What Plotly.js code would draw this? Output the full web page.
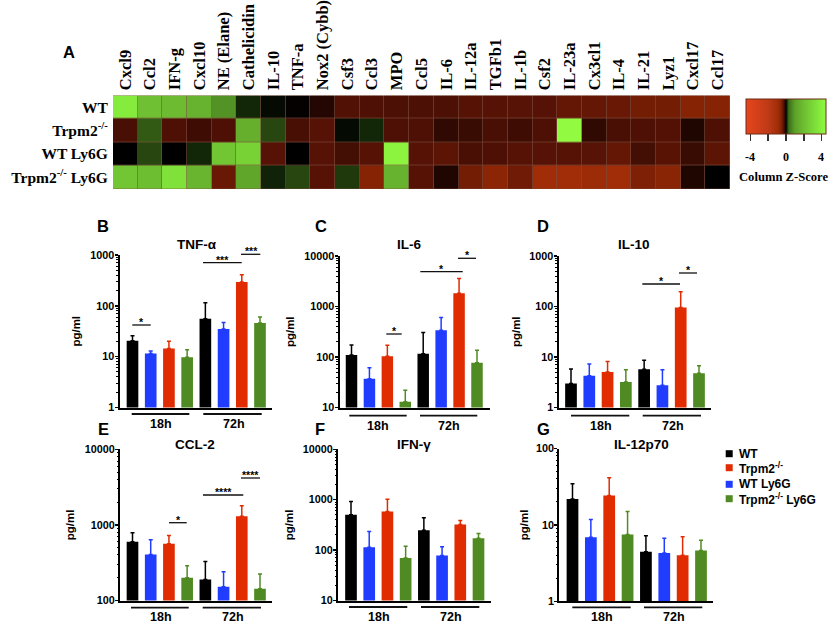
<!DOCTYPE html>
<html>
<head>
<meta charset="utf-8">
<script src="https://cdn.plot.ly/plotly-3.0.1.min.js"></script>
<style>body { margin: 0; background: #fff; }</style>
</head>
<body>
<div id="chart" style="width:829px;height:624px"></div>
<script>
// heatmap data
var genes = ["Cxcl9", "Ccl2", "IFN-g", "Cxcl10", "NE (Elane)", "Cathelicidin", "IL-10", "TNF-a", "Nox2 (Cybb)",
    "Csf3", "Ccl3", "MPO", "Ccl5", "IL-6", "IL-12a", "TGFb1", "IL-1b", "Csf2", "IL-23a", "Cx3cl1", "IL-4",
    "IL-21", "Lyz1", "Cxcl17", "Ccl17"];
var rows = ["WT", "Trpm2<sup>-/-</sup>", "WT Ly6G", "Trpm2<sup>-/-</sup> Ly6G"];
var zWT = [3.8, 2.1, 1.9, 1.6, 0.8, 0.1, 0.03, -0.01, -0.08, -0.26, -0.25, -0.24, -0.24, -0.24, -0.28, -0.28, -0.29, -0.28, -0.36, -0.36, -0.38, -0.45, -0.45, -0.55, -0.55];
var zTrpm2 = [-0.22, 0.25, -0.25, -0.18, -0.25, 1.5, 0.2, -0.22, -0.28, 0.03, 0.1, -0.25, -0.25, -0.11, -0.15, -0.23, -0.18, -0.25, 4.5, -0.11, -0.23, -0.25, -0.27, -0.07, -0.25];
var zWTLy6G = [0, 0.2, 0, 0.1, 2.3, 2.8, -0.28, 0, -0.28, -0.2, -0.28, 4.2, -0.28, -0.32, -0.23, -0.25, -0.28, -0.28, -0.28, -0.29, -0.36, -0.2, -0.3, -0.15, -0.32];
var zTrpm2Ly6G = [2.3, 2, 3.4, 1.7, -0.38, 1.2, 0.09, 0.2, -0.28, 0.16, -0.55, 1.6, -0.28, -0.07, -0.45, -0.62, -0.42, -0.9, -0.9, -0.85, -0.9, -0.5, -0.58, -0.07, 0];

// colour ramp, z value then colour
var rampZ = [-4.5, -2, -0.9, -0.55, -0.28, -0.1, 0, 0.1, 0.2, 0.3, 1, 2, 3.5, 4.5];
var rampColors = ["rgb(230,70,30)", "rgb(190,58,22)", "rgb(160,45,8)", "rgb(135,35,5)", "rgb(85,18,5)", "rgb(45,8,2)", "rgb(0,0,0)",
    "rgb(18,38,8)", "rgb(40,70,15)", "rgb(60,110,25)", "rgb(92,160,40)", "rgb(110,190,50)", "rgb(128,228,58)", "rgb(145,250,65)"];

// bar data, in drawing order: WT, WT Ly6G, Trpm2, Trpm2 Ly6G at 18h then the same at 72h
var groups = ["WT", "Trpm2", "WT Ly6G", "Trpm2 Ly6G"];
var groupLabels = ["WT", "Trpm2<sup>-/-</sup>", "WT Ly6G", "Trpm2<sup>-/-</sup> Ly6G"];
var groupColors = ["#000000", "#e02c00", "#1f3cff", "#4f8a22"];
var barOrder = ["WT", "WT Ly6G", "Trpm2", "Trpm2 Ly6G"];
var times = ["18h", "72h"];

var tnfMeans = [20.6, 11.6, 14.4, 9.7, 56, 35, 295, 46];
var tnfTops = [25.7, 12.9, 20, 13.7, 115, 47, 410, 60];
var il6Means = [110, 37, 103, 13, 116, 339, 1840, 77];
var il6Tops = [173, 61, 170, 22, 304, 604, 3600, 136];
var il10Means = [3, 4.27, 5.05, 3.2, 5.7, 2.75, 96, 4.75];
var il10Tops = [5.8, 7.3, 8.1, 5.6, 8.6, 5.6, 197, 6.7];
var ccl2Means = [599, 407, 563, 200, 190, 152, 1297, 143];
var ccl2Tops = [787, 636, 726, 288, 329, 240, 1795, 225];
var ifngMeans = [500, 114, 582, 70, 248, 78, 321, 172];
var ifngTops = [918, 233, 1021, 119, 436, 116, 385, 213];
var il12Means = [21.8, 6.9, 24.3, 7.5, 4.46, 4.28, 4, 4.64];
var il12Tops = [34.5, 11.8, 41.4, 15, 7.2, 6.7, 7, 6.3];

var W = 829, H = 624;
var sans = "Liberation Sans", serif = "Liberation Serif";

function px(x) { return x / W; }
function py(y) { return 1 - y / H; }

// panel frames are in page pixels
var panels = [
    { title: "TNF-α", means: tnfMeans, tops: tnfTops, letter: "B", letterX: 103, letterY: 226, titleX: 197, titleY: 244.5,
      left: 119.5, right: 272, top: 255, bottom: 407.5, first: 132.5, last: 260, logRange: [0, 3], standoff: 7,
      bracketY: 414, b18: [131.7, 189.3], b72: [203.3, 261.7], labelY: 424, l18: 161.3, l72: 234,
      sig: [[132.3, 150.7, 325, "*", 141.3], [203, 241.7, 262.7, "***", 222], [241, 260.3, 254.3, "***", 251.3]] },
    { title: "IL-6", means: il6Means, tops: il6Tops, letter: "C", letterX: 321, letterY: 226, titleX: 409.3, titleY: 244.5,
      left: 339.5, right: 490, top: 256, bottom: 407.5, first: 351.5, last: 477, logRange: [1, 4], standoff: 7,
      bracketY: 415.7, b18: [349.3, 406.7], b72: [420, 477.3], labelY: 425.7, l18: 378.3, l72: 449.3,
      sig: [[386.3, 401.7, 334, "*", 394], [420.3, 462.7, 271.7, "*", 441], [458, 476, 258.3, "*", 467]] },
    { title: "IL-10", means: il10Means, tops: il10Tops, letter: "D", letterX: 543.3, letterY: 226, titleX: 634, titleY: 244.5,
      left: 558.5, right: 710.7, top: 256, bottom: 407.5, first: 571, last: 699, logRange: [0, 3], standoff: 6,
      bracketY: 415.7, b18: [571, 629.3], b72: [642.7, 701], labelY: 425.7, l18: 600.7, l72: 673.3,
      sig: [[642.3, 680, 284, "*", 661], [679, 697, 273, "*", 688]] },
    { title: "CCL-2", means: ccl2Means, tops: ccl2Tops, letter: "E", letterX: 103, letterY: 429, titleX: 195, titleY: 444.5,
      left: 120, right: 272, top: 449.3, bottom: 600.5, first: 132.5, last: 260, logRange: [2, 4], standoff: 8,
      bracketY: 607.7, b18: [131, 188.7], b72: [202.7, 261], labelY: 617.3, l18: 160.7, l72: 233,
      sig: [[169, 186.7, 522.7, "*", 178], [203, 243.3, 495, "****", 223.3], [241, 260, 478, "****", 250.3]] },
    { title: "IFN-γ", means: ifngMeans, tops: ifngTops, letter: "F", letterX: 320, letterY: 429, titleX: 414, titleY: 444.5,
      left: 338, right: 490.7, top: 449.3, bottom: 600.5, first: 351, last: 478.5, logRange: [1, 4], standoff: 7,
      bracketY: 607, b18: [349, 407.3], b72: [421, 479.3], labelY: 617.3, l18: 379, l72: 451.3, sig: [] },
    { title: "IL-12p70", means: il12Means, tops: il12Tops, letter: "G", letterX: 543, letterY: 429, titleX: 641, titleY: 444.5,
      left: 559.3, right: 712.7, top: 448.5, bottom: 601.3, first: 572.5, last: 701, logRange: [0, 2], standoff: 5,
      bracketY: 607.3, b18: [572.3, 630.7], b72: [644, 702.3], labelY: 617.3, l18: 601.7, l72: 674.3, sig: [] }
];

var barCategories = [];
times.forEach(function (t) {
    barOrder.forEach(function (g) { barCategories.push(g + " " + t); });
});

var data = [], shapes = [], annotations = [];
var layout = {
    width: W, height: H,
    margin: { l: 0, r: 0, t: 0, b: 0 },
    paper_bgcolor: "#fff", plot_bgcolor: "#fff",
    barmode: "overlay", showlegend: false,
    font: { family: sans, color: "#000" }
};

function note(text, x, y, size, family, weight) {
    annotations.push({
        xref: "paper", yref: "paper", x: px(x), y: py(y), text: text, showarrow: false,
        xanchor: "center", yanchor: "middle",
        font: { family: family || sans, size: size, color: "#000", weight: weight || "bold" }
    });
}
function hline(x0, x1, y, width) {
    shapes.push({ type: "line", xref: "paper", yref: "paper", x0: px(x0), x1: px(x1), y0: py(y), y1: py(y),
        line: { color: "#111", width: width } });
}

panels.forEach(function (p, i) {
    var n = i + 1, suffix = n === 1 ? "" : String(n);
    var pitch = (p.last - p.first) / 7;

    groups.forEach(function (g, k) {
        var xs = [], ys = [], ups = [], downs = [];
        barCategories.forEach(function (c, j) {
            if (barOrder[j % 4] === g) {
                xs.push(c);
                ys.push(p.means[j]);
                ups.push(p.tops[j] - p.means[j]);
                downs.push(0);
            }
        });
        data.push({
            type: "bar", name: g, x: xs, y: ys, width: 0.64,
            xaxis: "x" + suffix, yaxis: "y" + suffix,
            marker: { color: groupColors[k] },
            error_y: { type: "data", symmetric: false, array: ups, arrayminus: downs,
                color: groupColors[k], thickness: 1.5, width: 2 }
        });
    });

    layout["xaxis" + suffix] = {
        domain: [px(p.left), px(p.right)], anchor: "y" + suffix,
        type: "category", categoryorder: "array", categoryarray: barCategories,
        range: [-(p.first - p.left) / pitch, (p.right - p.first) / pitch],
        showgrid: false, showticklabels: false, ticks: "", zeroline: false,
        showline: true, linecolor: "#000", linewidth: 2
    };
    layout["yaxis" + suffix] = {
        domain: [py(p.bottom), py(p.top)], anchor: "x" + suffix,
        type: "log", range: p.logRange, dtick: 1, tickformat: "d",
        showgrid: false, zeroline: false,
        showline: true, linecolor: "#000", linewidth: 2,
        ticks: "outside", ticklen: 3, tickwidth: 1.5, tickcolor: "#000", ticklabelstandoff: -2,
        minor: { dtick: "D1", ticks: "outside", ticklen: 1.5, tickwidth: 1, tickcolor: "#000" },
        tickfont: { family: sans, size: 10.8, weight: "bold", color: "#000" },
        title: { text: "pg/ml", standoff: p.standoff, font: { family: sans, size: 11.5, weight: "bold", color: "#000" } }
    };

    note(p.letter, p.letterX, p.letterY, 16.5);
    note(p.title, p.titleX, p.titleY, 13.5);

    hline(p.b18[0], p.b18[1], p.bracketY, 1.8);
    hline(p.b72[0], p.b72[1], p.bracketY, 1.8);
    note(times[0], p.l18, p.labelY, 12.5);
    note(times[1], p.l72, p.labelY, 12.5);

    p.sig.forEach(function (s) {
        hline(s[0], s[1], s[2], 1.3);
        note(s[3], s[4], s[2] - 3, 10.5);
    });
});

// heatmap panel
var colorscale = rampZ.map(function (z, i) { return [(z + 4.5) / 9, rampColors[i]]; });
data.push({
    type: "heatmap", x: genes, y: rows, z: [zWT, zTrpm2, zWTLy6G, zTrpm2Ly6G],
    xaxis: "x7", yaxis: "y7", zmin: -4.5, zmax: 4.5, colorscale: colorscale,
    xgap: 0.6, ygap: 0.6, hoverinfo: "skip",
    colorbar: {
        orientation: "h", lenmode: "pixels", len: 80, thicknessmode: "pixels", thickness: 35,
        x: px(786), xanchor: "center", y: py(99), yanchor: "top", xpad: 0, ypad: 0,
        tickmode: "array", tickvals: [-4, -2, 0, 2, 4], showticklabels: false,
        ticks: "outside", ticklen: 7, tickwidth: 1.5, tickcolor: "#333",
        outlinecolor: "#6a2a18", outlinewidth: 1, borderwidth: 0
    }
});
layout.xaxis7 = {
    domain: [px(113), px(730)], anchor: "y7", side: "top", type: "category",
    tickmode: "array", tickvals: genes, ticktext: genes, tickangle: -90,
    ticks: "outside", ticklen: 1, tickcolor: "rgba(0,0,0,0)", showgrid: false, zeroline: false,
    tickfont: { family: serif, size: 16.5, weight: "bold", color: "#000" }
};
layout.yaxis7 = {
    domain: [py(189), py(95.5)], anchor: "x7", type: "category", autorange: "reversed",
    tickmode: "array", tickvals: rows, ticktext: rows,
    ticks: "outside", ticklen: 1, tickcolor: "rgba(0,0,0,0)", showgrid: false, zeroline: false,
    tickfont: { family: serif, size: 15.5, weight: "bold", color: "#000" }
};
shapes.push({ type: "rect", xref: "x7 domain", yref: "y7 domain", x0: 0, x1: 1, y0: 0, y1: 1,
    layer: "below", line: { width: 0 }, fillcolor: "rgb(125,80,65)" });

note("A", 69.3, 52, 16.5);
note("-4", 749.5, 157, 12, serif);
note("0", 785.5, 157, 12, serif);
note("4", 821, 157, 12, serif);
note("Column Z-Score", 783, 177, 12.6, serif);

// legend
groups.forEach(function (g, k) {
    var rowY = [453.7, 467.7, 484.3, 498.7][k];
    shapes.push({ type: "rect", xref: "paper", yref: "paper", x0: px(725.7), x1: px(732.7), y0: py(rowY + 3.5), y1: py(rowY - 3.5),
        line: { width: 0 }, fillcolor: groupColors[k] });
    annotations.push({
        xref: "paper", yref: "paper", x: px(736.5), y: py(rowY), text: groupLabels[k], showarrow: false,
        xanchor: "left", yanchor: "middle", font: { family: sans, size: 12, weight: "bold", color: "#000" }
    });
});

layout.shapes = shapes;
layout.annotations = annotations;

Plotly.newPlot("chart", data, layout, { displayModeBar: false, staticPlot: true });
</script>
</body>
</html>
